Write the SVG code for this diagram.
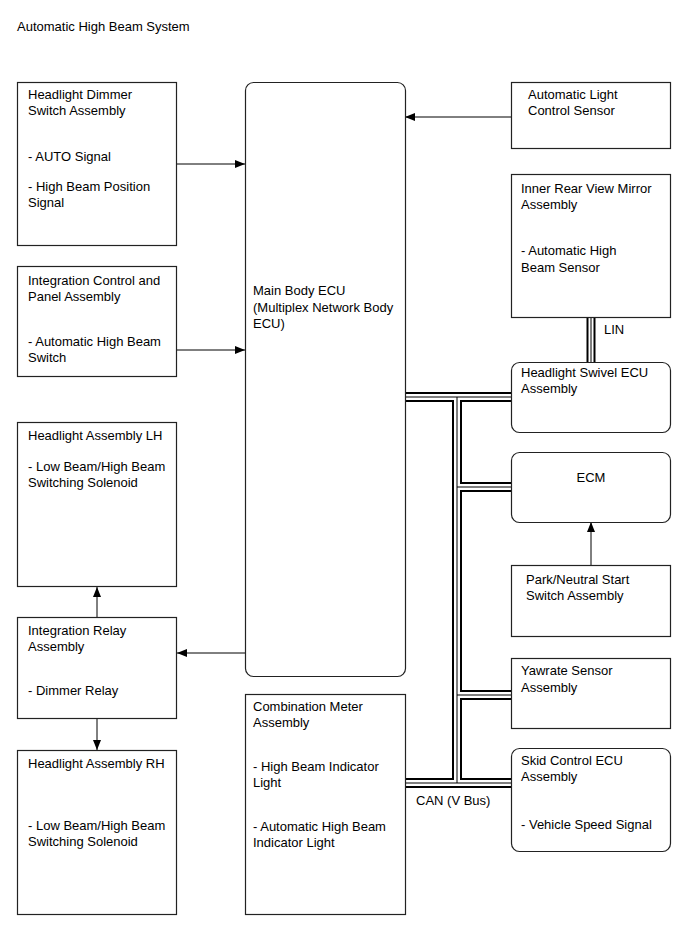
<svg xmlns="http://www.w3.org/2000/svg" width="691" height="952" viewBox="0 0 691 952">
<style>
.box{fill:#fff;stroke:#222;stroke-width:1.2}
text{font-family:"Liberation Sans",Arial,sans-serif;font-size:13px;fill:#000}
.ln{stroke:#000;stroke-width:1;fill:none}
.b1{stroke:#000;stroke-width:10;fill:none}
.b2{stroke:#fff;stroke-width:6;fill:none}
.b3{stroke:#000;stroke-width:1;fill:none}
</style>
<defs>
<marker id="ah" viewBox="0 0 10 8" refX="10" refY="4" markerWidth="10" markerHeight="8" markerUnits="userSpaceOnUse" orient="auto">
<path d="M0,0 L10,4 L0,8 Z" fill="#000"/>
</marker>
</defs>
<text x="17" y="31">Automatic High Beam System</text>

<g id="connectors">
<g id="can-bus">
<path class="b1" d="M405,397 H511 M457,397 V783 M405,783 H511 M457,487 H511 M457,695 H511"/>
<path class="b1" d="M591,318 V362" style="stroke-width:9"/>
<path class="b2" d="M405,397 H511 M457,397 V783 M405,783 H511 M457,487 H511 M457,695 H511"/>
<path class="b2" d="M591,318 V362" style="stroke-width:5"/>
<path class="b3" d="M405,397 H511 M457,397 V783 M405,783 H511 M457,487 H511 M457,695 H511"/>
<path class="b3" d="M591,318 V362"/>
</g>
<line class="ln" x1="511" y1="117" x2="405" y2="117" marker-end="url(#ah)"/>
<line class="ln" x1="177" y1="164" x2="245" y2="164" marker-end="url(#ah)"/>
<line class="ln" x1="177" y1="350" x2="245" y2="350" marker-end="url(#ah)"/>
<line class="ln" x1="245" y1="653" x2="177" y2="653" marker-end="url(#ah)"/>
<line class="ln" x1="97" y1="617" x2="97" y2="587" marker-end="url(#ah)"/>
<line class="ln" x1="97" y1="719" x2="97" y2="750" marker-end="url(#ah)"/>
<line class="ln" x1="591" y1="565" x2="591" y2="522" marker-end="url(#ah)"/>
<text x="604" y="334">LIN</text>
<text x="416" y="805">CAN (V Bus)</text>
</g>

<g id="dimmer-switch">
<rect class="box" x="17.5" y="82.5" width="159" height="163"/>
<text x="28" y="99">Headlight Dimmer</text>
<text x="28" y="115">Switch Assembly</text>
<text x="28" y="161">- AUTO Signal</text>
<text x="28" y="191">- High Beam Position</text>
<text x="28" y="207">Signal</text>
</g>
<g id="integration-control">
<rect class="box" x="17.5" y="266.5" width="159" height="110"/>
<text x="28" y="285">Integration Control and</text>
<text x="28" y="301">Panel Assembly</text>
<text x="28" y="346">- Automatic High Beam</text>
<text x="28" y="362">Switch</text>
</g>
<g id="headlight-lh">
<rect class="box" x="17.5" y="422.5" width="159" height="164"/>
<text x="28" y="440">Headlight Assembly LH</text>
<text x="28" y="471">- Low Beam/High Beam</text>
<text x="28" y="487">Switching Solenoid</text>
</g>
<g id="integration-relay">
<rect class="box" x="17.5" y="617.5" width="159" height="101"/>
<text x="28" y="635">Integration Relay</text>
<text x="28" y="651">Assembly</text>
<text x="28" y="695">- Dimmer Relay</text>
</g>
<g id="headlight-rh">
<rect class="box" x="17.5" y="750.5" width="159" height="164"/>
<text x="28" y="768">Headlight Assembly RH</text>
<text x="28" y="830">- Low Beam/High Beam</text>
<text x="28" y="846">Switching Solenoid</text>
</g>
<g id="main-body-ecu">
<rect class="box" x="245.5" y="82.5" width="160" height="594" rx="8"/>
<text x="253" y="295">Main Body ECU</text>
<text x="253" y="312">(Multiplex Network Body</text>
<text x="253" y="328">ECU)</text>
</g>
<g id="combination-meter">
<rect class="box" x="245.5" y="694.5" width="160" height="220"/>
<text x="253" y="711">Combination Meter</text>
<text x="253" y="727">Assembly</text>
<text x="253" y="771">- High Beam Indicator</text>
<text x="253" y="787">Light</text>
<text x="253" y="831">- Automatic High Beam</text>
<text x="253" y="847">Indicator Light</text>
</g>
<g id="light-control-sensor">
<rect class="box" x="511.5" y="82.5" width="159" height="66"/>
<text x="528" y="99">Automatic Light</text>
<text x="528" y="115">Control Sensor</text>
</g>
<g id="inner-mirror">
<rect class="box" x="511.5" y="174.5" width="159" height="143"/>
<text x="521" y="193">Inner Rear View Mirror</text>
<text x="521" y="209">Assembly</text>
<text x="521" y="255">- Automatic High</text>
<text x="521" y="272">Beam Sensor</text>
</g>
<g id="swivel-ecu">
<rect class="box" x="511.5" y="362.5" width="159" height="70" rx="8"/>
<text x="521" y="377">Headlight Swivel ECU</text>
<text x="521" y="393">Assembly</text>
</g>
<g id="ecm">
<rect class="box" x="511.5" y="452.5" width="159" height="70" rx="8"/>
<text x="591" y="482" text-anchor="middle">ECM</text>
</g>
<g id="park-neutral">
<rect class="box" x="511.5" y="565.5" width="159" height="71"/>
<text x="526" y="584">Park/Neutral Start</text>
<text x="526" y="600">Switch Assembly</text>
</g>
<g id="yawrate">
<rect class="box" x="511.5" y="658.5" width="159" height="70"/>
<text x="521" y="675">Yawrate Sensor</text>
<text x="521" y="692">Assembly</text>
</g>
<g id="skid-control">
<rect class="box" x="511.5" y="748.5" width="159" height="103" rx="8"/>
<text x="521" y="765">Skid Control ECU</text>
<text x="521" y="781">Assembly</text>
<text x="521" y="829">- Vehicle Speed Signal</text>
</g>
</svg>
